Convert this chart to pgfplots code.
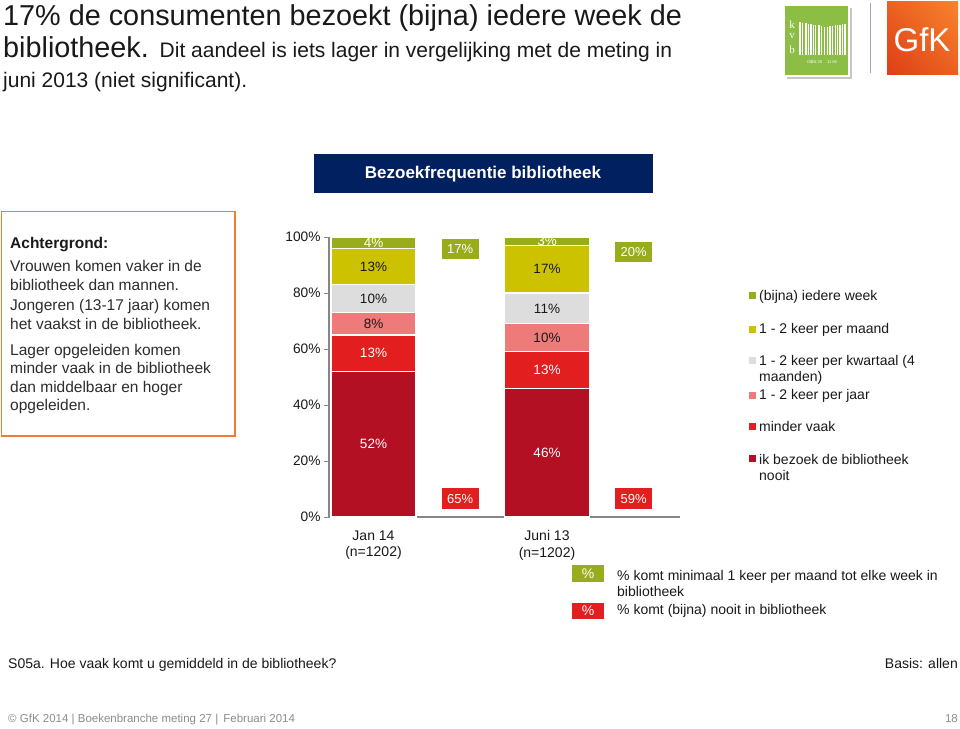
\documentclass[border=0pt]{standalone}
\usepackage{pgfplots}
\pgfplotsset{compat=1.18}
\usetikzlibrary{shadings}
\usepackage{fontspec}
\setmainfont{Liberation Sans}
\newfontfamily\seriffont{Liberation Serif}
\definecolor{cWeek}{RGB}{153,172,28}
\definecolor{cMaand}{RGB}{204,194,0}
\definecolor{cKwart}{RGB}{221,221,221}
\definecolor{cJaar}{RGB}{238,122,122}
\definecolor{cMinder}{RGB}{226,30,30}
\definecolor{cNooit}{RGB}{180,16,36}
\definecolor{cNavy}{RGB}{0,32,96}
\definecolor{cOrange}{RGB}{237,125,49}
\definecolor{cTxt}{RGB}{25,25,25}
\definecolor{cBox}{RGB}{45,45,45}
\definecolor{cKvb}{RGB}{140,190,70}
\definecolor{cGfkA}{RGB}{222,62,22}
\definecolor{cGfkB}{RGB}{248,132,45}
\definecolor{cGfkC}{RGB}{235,97,33}
\definecolor{cAx}{RGB}{134,134,134}
\definecolor{cFoot}{RGB}{140,140,140}
\newcommand{\fs}[2]{\fontsize{#1}{#2}\selectfont}
\begin{document}
\begin{tikzpicture}[x=1pt,y=-1pt]
\fill[white] (0,0) rectangle (960,728);
\path[use as bounding box] (0,0) rectangle (960,728);
% ---- title ----
\node[anchor=base west, inner sep=0, text=cTxt] at (3,25) {\fs{28.8pt}{34pt}17\% de consumenten bezoekt (bijna) iedere week de};
\node[anchor=base west, inner sep=0, text=cTxt] at (3,57) {\fs{28.8pt}{34pt}bibliotheek.\hspace{3pt}\fs{21pt}{25pt} Dit aandeel is iets lager in vergelijking met de meting in};
\node[anchor=base west, inner sep=0, text=cTxt] at (3,87) {\fs{21pt}{25pt}juni 2013 (niet significant).};
% ---- logos ----
\fill[black!22] (787,8) rectangle (852,79);
\fill[cKvb, draw=white, line width=1.2] (784,5) rectangle (849,76);
\foreach \x/\w in {799/1.5,802/1,804.5/2,808/1,810/1.5,813/1,815/1,817.5/2,821/1,823.5/1.5,827/1,829/2,832/1,834.5/1.5,837/1,839/2,842/1,844/1.5}{
  \pgfmathsetmacro\t{22+5*(1-abs(\x-826)/27)}
  \fill[white] (\x,\t) rectangle ({\x+\w},55);
}
\node[text=white, inner sep=0] at (792,25) {\seriffont\fs{11pt}{11pt}k};
\node[text=white, inner sep=0] at (792,36) {\seriffont\fs{11pt}{11pt}v};
\node[text=white, inner sep=0] at (792,50) {\seriffont\fs{11pt}{11pt}b};
\node[text=white, inner sep=0] at (822,62) {\fs{4pt}{4pt}ISBN 28 \quad 11 06};
\draw[black!35, line width=0.8] (870,3) -- (870,73);
\shade[lower left=cGfkA, upper right=cGfkB, lower right=cGfkC, upper left=cGfkC] (887,1) rectangle (958,74);
\node[text=white, inner sep=0] at (922,40) {\fs{33pt}{33pt}GfK};
% ---- chart title box ----
\fill[cNavy] (314,154) rectangle (652.5,193);
\node[text=white, inner sep=0] at (483,174) {\fs{17pt}{20pt}\bfseries Bezoekfrequentie bibliotheek};
% ---- left text box ----
\draw[cOrange, line width=1.3] (1.5,211.5) rectangle (235,436);
\node[anchor=base west, inner sep=0, text=cTxt] at (10,248.3) {\fs{15.5pt}{18pt}\bfseries Achtergrond:};
\node[anchor=base west, inner sep=0, text=cBox] at (10,271.7) {\fs{15.5pt}{18pt}Vrouwen komen vaker in de};
\node[anchor=base west, inner sep=0, text=cBox] at (10,290.3) {\fs{15.5pt}{18pt}bibliotheek dan mannen.};
\node[anchor=base west, inner sep=0, text=cBox] at (10,310.5) {\fs{15.5pt}{18pt}Jongeren (13-17 jaar) komen};
\node[anchor=base west, inner sep=0, text=cBox] at (10,329.3) {\fs{15.5pt}{18pt}het vaakst in de bibliotheek.};
\node[anchor=base west, inner sep=0, text=cBox] at (10,355) {\fs{15.5pt}{18pt}Lager opgeleiden komen};
\node[anchor=base west, inner sep=0, text=cBox] at (10,373.5) {\fs{15.5pt}{18pt}minder vaak in de bibliotheek};
\node[anchor=base west, inner sep=0, text=cBox] at (10,392.2) {\fs{15.5pt}{18pt}dan middelbaar en hoger};
\node[anchor=base west, inner sep=0, text=cBox] at (10,410.7) {\fs{15.5pt}{18pt}opgeleiden.};
% ---- chart ----
\begin{axis}[
  at={(329pt,-517pt)}, anchor=south west,
  scale only axis, width=351pt, height=280pt,
  xmin=-0.2565, xmax=1.7666, ymin=0, ymax=100,
  ybar stacked, bar width=0.49,
  axis x line*=bottom, axis y line*=left,
  axis line style={draw=cAx, line width=1.1pt},
  ytick={0,20,40,60,80,100},
  yticklabel={\pgfmathprintnumber{\tick}\%},
  /pgf/number format/assume math mode=true,
  yticklabel style={font=\fs{13.7pt}{16pt}, text=cTxt},
  tick align=outside, major tick length=5pt,
  ytick style={draw=cAx, line width=1pt},
  xtick={0,1},
  xticklabels={{Jan 14\\(n=1202)},{Juni 13\\(n=1202)}},
  xticklabel style={font=\fs{14pt}{16.5pt}, align=center, text=cTxt, yshift=-5pt},
  xtick style={draw=none},
  every axis plot/.append style={draw=white, line width=1.3pt},
]
\addplot[fill=cNooit] coordinates {(0,52) (1,46)};
\addplot[fill=cMinder] coordinates {(0,13) (1,13)};
\addplot[fill=cJaar] coordinates {(0,8) (1,10)};
\addplot[fill=cKwart] coordinates {(0,10) (1,11)};
\addplot[fill=cMaand] coordinates {(0,13) (1,17)};
\addplot[fill=cWeek] coordinates {(0,4) (1,3)};
\end{axis}
\begin{axis}[
  at={(329pt,-517pt)}, anchor=south west,
  scale only axis, width=351pt, height=280pt,
  xmin=-0.2565, xmax=1.7666, ymin=0, ymax=100,
  axis lines=none, clip=false,
]
\addplot[only marks, mark=none, nodes near coords, point meta=explicit symbolic,
  every node near coord/.append style={anchor=center, text=white, font=\fs{13.5pt}{16pt}}]
  coordinates {(0,26) [52\%] (0,58.5) [13\%] (0,98) [4\%] (1,23) [46\%] (1,52.5) [13\%] (1,98.5) [3\%]};
\addplot[only marks, mark=none, nodes near coords, point meta=explicit symbolic,
  every node near coord/.append style={anchor=center, text=cTxt, font=\fs{13.5pt}{16pt}}]
  coordinates {(0,69) [8\%] (0,78) [10\%] (0,89.5) [13\%] (1,64) [10\%] (1,74.5) [11\%] (1,88.5) [17\%]};
\addplot[only marks, mark=none, nodes near coords, point meta=explicit symbolic,
  every node near coord/.append style={anchor=center, text=white, fill=cWeek, minimum width=37pt, minimum height=20pt, inner sep=0pt, font=\fs{13pt}{15pt}}]
  coordinates {(0.5,95.7) [17\%] (1.5,94.6) [20\%]};
\addplot[only marks, mark=none, nodes near coords, point meta=explicit symbolic,
  every node near coord/.append style={anchor=center, text=white, fill=cMinder, minimum width=37pt, minimum height=21pt, inner sep=0pt, font=\fs{13pt}{15pt}}]
  coordinates {(0.5,6.6) [65\%] (1.5,6.6) [59\%]};
\end{axis}
% ---- right legend ----
\fill[cWeek] (749,291.5) rectangle (756,298.5);
\node[anchor=base west, inner sep=0, text=cTxt] at (759,300) {\fs{14pt}{16pt}(bijna) iedere week};
\fill[cMaand] (749,325.8) rectangle (756,332.8);
\node[anchor=base west, inner sep=0, text=cTxt] at (759,333.3) {\fs{14pt}{16pt}1 - 2 keer per maand};
\fill[cKwart] (749,356.5) rectangle (756,363.5);
\node[anchor=base west, inner sep=0, text=cTxt] at (759,365) {\fs{14pt}{16pt}1 - 2 keer per kwartaal (4};
\node[anchor=base west, inner sep=0, text=cTxt] at (759,381.7) {\fs{14pt}{16pt}maanden)};
\fill[cJaar] (749,391.5) rectangle (756,398.5);
\node[anchor=base west, inner sep=0, text=cTxt] at (759,399) {\fs{14pt}{16pt}1 - 2 keer per jaar};
\fill[cMinder] (749,422.5) rectangle (756,429.5);
\node[anchor=base west, inner sep=0, text=cTxt] at (759,431) {\fs{14pt}{16pt}minder vaak};
\fill[cNooit] (749,455.2) rectangle (756,462.2);
\node[anchor=base west, inner sep=0, text=cTxt] at (759,464.3) {\fs{14pt}{16pt}ik bezoek de bibliotheek};
\node[anchor=base west, inner sep=0, text=cTxt] at (759,480) {\fs{14pt}{16pt}nooit};
% ---- bottom legend ----
\fill[cWeek] (572,565) rectangle (604,582);
\node[text=white, inner sep=0] at (588,573.5) {\fs{14pt}{16pt}\%};
\node[anchor=base west, inner sep=0, text=cTxt] at (617,580) {\fs{14pt}{16pt}\% komt minimaal 1 keer per maand tot elke week in};
\node[anchor=base west, inner sep=0, text=cTxt] at (617,596.7) {\fs{14pt}{16pt}bibliotheek};
\fill[cMinder] (572,603) rectangle (604,619);
\node[text=white, inner sep=0] at (588,611) {\fs{14pt}{16pt}\%};
\node[anchor=base west, inner sep=0, text=cTxt] at (617,614.3) {\fs{14pt}{16pt}\% komt (bijna) nooit in bibliotheek};
% ---- footer ----
\node[anchor=base west, inner sep=0, text=cTxt] at (8,668) {\fs{14pt}{16pt}S05a. Hoe vaak komt u gemiddeld in de bibliotheek?};
\node[anchor=base east, inner sep=0, text=cTxt] at (958,668) {\fs{14pt}{16pt}Basis: allen};
\node[anchor=base west, inner sep=0, text=cFoot] at (8,722) {\fs{11.5pt}{13pt}\textcopyright{} GfK 2014 | Boekenbranche meting 27 |\, Februari 2014};
\node[anchor=base east, inner sep=0, text=cFoot] at (958,722) {\fs{11.5pt}{13pt}18};
\end{tikzpicture}
\end{document}
